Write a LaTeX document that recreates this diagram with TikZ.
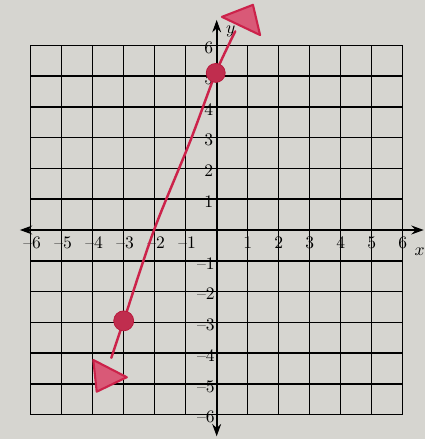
\documentclass[tikz,border=0pt]{standalone}
\usetikzlibrary{arrows.meta}

\definecolor{paper}{RGB}{214,213,208}
\definecolor{pen}{RGB}{204,34,74}
\definecolor{pendark}{RGB}{185,22,58}

\tikzset{
  gridline/.style={line width=0.8pt, black},
  axisline/.style={line width=1.3pt, black, {Stealth[length=7pt,width=5pt]}-{Stealth[length=7pt,width=5pt]}},
  redline/.style={line width=1.4pt, pen, line cap=round},
  dot/.style={pendark, fill=pendark!90},
  headtri/.style={pen, line width=1.2pt, line join=round, fill=pen!75},
}

\begin{document}
\begin{tikzpicture}[x=0.62cm, y=0.616cm, font=\normalsize]
  % Graph paper photo: a line through (0,5) and (-3,-3)
  \fill[paper] (-6.99,-6.786) rectangle (6.72,7.468);
  \useasboundingbox (-6.99,-6.786) rectangle (6.72,7.468);

  % Grid from -6 to 6, one line per unit
  \foreach \k in {-6,...,6} {
    \draw[gridline] (\k,-6) -- (\k,6);
    \draw[gridline] (-6,\k) -- (6,\k);
  }

  % Axes
  \coordinate (xl) at (-6.35,0);
  \coordinate (xr) at (6.68,0);
  \coordinate (yb) at (0,-6.7);
  \coordinate (yt) at (0,6.82);
  \draw[axisline] (xl) -- (xr);
  \draw[axisline] (yb) -- (yt);

  % Tick labels
  \foreach \x in {-6,...,-1}
    \node (xlab\x) at (\x+0.05,-0.42) {\textendash\the\numexpr-\x\relax};
  \foreach \x in {1,...,6}
    \node (xlab\x) at (\x,-0.42) {\x};
  \foreach \y in {1,...,6}
    \node[anchor=east, inner sep=0pt] (ylab\y) at (-0.1,\y-0.08) {\y};
  \foreach \y in {-6,...,-1}
    \node[anchor=east, inner sep=0pt] (ylab\y) at (-0.05,\y-0.08) {\textendash\the\numexpr-\y\relax};

  % Axis names
  \node[inner sep=1pt] (xname) at (6.55,-0.72) {$x$};
  \node (yname) at (0.45,6.45) {$y$};

  % The hand-drawn line
  \coordinate (tail) at (-3.4,-4.15);
  \coordinate (P) at (-3,-2.95);
  \coordinate (Q) at (-0.03,5.1);
  \coordinate (head) at (0.6,6.45);
  \draw[redline] plot[smooth, tension=0.5] coordinates
    {(tail) (P) (-2.02,0) (-0.86,2.87) (Q) (head)};

  % Arrowheads
  \filldraw[headtri] (0.17,6.92) -- (1.17,7.31) -- (1.40,6.33) -- cycle;
  \filldraw[headtri] (-3.98,-4.22) -- (-2.90,-4.78) -- (-3.87,-5.25) -- cycle;

  % Plotted points
  \filldraw[dot] (Q) circle (0.19cm);
  \filldraw[dot] (P) circle (0.2cm);
\end{tikzpicture}
\end{document}
